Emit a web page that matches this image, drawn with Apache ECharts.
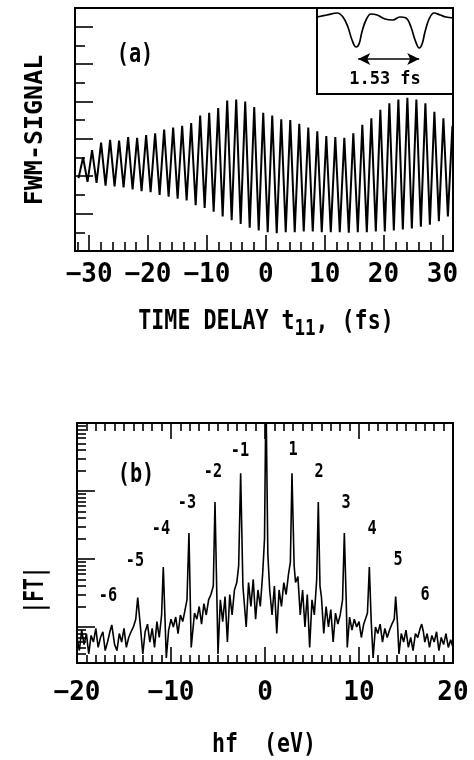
<!DOCTYPE html>
<html><head><meta charset="utf-8">
<script src="https://cdn.jsdelivr.net/npm/echarts@6/dist/echarts.min.js"></script>
<style>html,body{margin:0;padding:0;background:#fff}#c{width:474px;height:760px}</style>
</head><body><div id="c"></div>
<script>
// ---------- DATA ----------
// (a) FWM signal: trough / peak times (fs) and values (arb. units, axis 0..13)
const troughT = [-31.80,-30.27,-28.74,-27.21,-25.68,-24.15,-22.62,-21.09,-19.56,-18.03,-16.50,-14.97,-13.44,-11.91,-10.38,-8.85,-7.32,-5.79,-4.26,-2.73,-1.20,0.33,1.86,3.39,4.92,6.45,7.98,9.51,11.04,12.57,14.10,15.63,17.16,18.69,20.22,21.75,23.28,24.81,26.34,27.87,29.40,30.93];
const troughV = [3.9,3.7,3.65,3.5,3.45,3.4,3.3,3.2,3.15,3.0,2.9,2.8,2.7,2.45,2.3,2.1,1.85,1.65,1.45,1.25,1.1,1.0,0.95,1.0,1.0,1.05,1.05,1.0,1.0,1.0,0.98,1.0,1.0,1.05,1.05,1.1,1.15,1.2,1.3,1.4,1.6,1.85];
const peakT = [-31.03,-29.50,-27.97,-26.44,-24.91,-23.38,-21.85,-20.32,-18.79,-17.26,-15.73,-14.20,-12.67,-11.14,-9.61,-8.08,-6.55,-5.02,-3.49,-1.96,-0.43,1.10,2.63,4.16,5.69,7.22,8.75,10.28,11.81,13.34,14.87,16.40,17.93,19.46,20.99,22.52,24.05,25.58,27.11,28.64,30.17,31.70];
const peakV = [5.0,5.4,5.8,5.95,5.9,6.1,6.05,6.2,6.3,6.5,6.6,6.7,6.85,7.25,7.4,7.65,8.05,8.1,8.0,7.7,7.4,7.25,7.05,7.0,6.8,6.6,6.4,6.15,6.1,6.05,6.3,6.75,7.1,7.55,7.9,8.1,8.2,8.1,7.9,7.45,7.1,6.7];
const xTickLabelsA = [-30,-20,-10,0,10,20,30];

// inset: single-cycle detail (time in fs from inset left edge, signal arb.)
const insetT = [0,0.24,0.49,0.63,0.75,0.85,0.95,1.02,1.09,1.19,1.31,1.46,1.65,1.84,2.01,2.16,2.28,2.38,2.48,2.55,2.62,2.72,2.84,2.99,3.13,3.30];
const insetV = [77,79,81,77,67,54,47,50,62,74,80,79,75,74,77,76,67,54,46,50,62,75,81,79,77,76];
const insetArrow = [1.0, 2.48];
const insetText = '1.53 fs';

// (b) |FT| spectrum: background points [hf (eV), |FT|] and harmonic peaks
const ftBackground = [
[-20,0.70],[-19.75,0.45],[-19.5,0.90],[-19.25,0.55],[-19,0.80],[-18.75,0.40],[-18.5,0.75],[-18.25,0.60],[-18,0.95],[-17.75,0.50],[-17.5,0.70],[-17.25,0.85],[-17,0.45],
[-16.75,0.60],[-16.5,0.85],[-16,0.55],
[-15.75,0.45],[-15.5,0.80],[-15.25,0.60],[-15,0.95],[-14.75,0.50],[-14.5,0.70],[-14.25,0.85],[-14,1.00],
[-13.75,1.30],[-13.25,1.00],
[-13,0.40],[-12.75,0.85],[-12.5,1.10],[-12.25,0.60],[-12,0.95],[-11.75,0.50],[-11.5,1.20],[-11.25,0.70],
[-11,1.50],[-10.5,0.35],
[-10.25,0.90],[-10,1.30],[-9.75,1.00],[-9.5,1.40],[-9.25,0.80],[-9,1.50],[-8.75,1.20],[-8.5,1.80],
[-8.3,2.5],[-7.85,0.50],[-7.5,1.60],
[-7.25,1.30],[-7,2.00],[-6.75,1.10],[-6.5,2.20],[-6.25,1.50],[-6,2.50],[-5.75,3.00],[-5.5,4.00],[-5.0,0.40],
[-4.75,2.50],[-4.5,1.20],[-4.25,2.80],[-4,0.60],[-3.75,3.00],[-3.5,1.50],[-3.25,3.50],[-3,4.50],[-2.8,8.0],[-2.35,4.0],[-2,1.00],
[-1.75,4.50],[-1.5,2.00],[-1.25,5.00],[-1,1.30],[-0.75,3.50],[-0.5,2.00],[-0.25,6.00],[-0.05,20],[0.3,12],[0.5,3.5],[0.75,1.5],
[1,4.0],[1.25,0.8],[1.5,3.5],[1.75,2.0],[2,4.5],[2.25,3.0],[2.5,6.0],[2.7,9.0],[3.1,8.0],[3.25,4.5],[3.5,5.5],[3.75,1.5],
[4,3.5],[4.25,1.0],[4.5,3.0],[4.75,0.5],[5,2.5],[5.25,1.5],[5.5,5.0],[5.85,4.0],[6,2.8],[6.25,0.8],
[6.5,2.0],[6.75,1.0],[7,1.8],[7.25,0.6],[7.5,1.6],[7.75,1.1],[8,1.5],[8.25,2.5],[8.65,2.2],[8.75,0.5],
[9,1.4],[9.25,0.9],[9.5,1.3],[9.75,1.0],[10,1.2],[10.25,0.7],[10.5,1.1],[10.9,1.6],[11.3,1.2],[11.5,0.35],
[11.75,1.0],[12,0.8],[12.25,1.1],[12.5,0.6],[12.75,0.95],[13,0.7],[13.25,0.9],[13.5,1.1],[13.75,1.3],[14.1,1.1],[14.25,0.4],
[14.5,0.8],[14.75,0.6],[15,0.9],[15.25,0.5],[15.5,0.7],[15.75,0.45],[16,0.8],[16.25,0.7],[16.5,0.95],[16.85,0.85],[17,0.6],
[17.25,0.8],[17.5,0.5],[17.75,0.75],[18,0.6],[18.25,0.85],[18.5,0.45],[18.75,0.7],[19,0.55],[19.25,0.8],[19.5,0.5],[19.75,0.65],[20,0.5]
];
const ftPeakE = [-16.3,-13.54,-10.82,-8.09,-5.32,-2.59,0.1,2.87,5.67,8.44,11.1,13.9,16.67];
const ftPeakV = [1.07,2.7,7.6,24,69,182,3000,182,69,24,7.6,2.8,1.1];
const ftPeakLabels = ['-6','-5','-4','-3','-2','-1','','1','2','3','4','5','6'];
const xTickLabelsB = [-20,-10,0,10,20];

// ---------- BUILD ----------
const FONT = "'DejaVu Sans Mono',monospace";
const fwm = [];
for (let k = 0; k < troughT.length; k++) {
  fwm.push([troughT[k], troughV[k]]);
  fwm.push([peakT[k], peakV[k]]);
}
const inset = insetT.map((t, i) => [t, insetV[i]]);
const ft = ftBackground.concat(ftPeakE.map((e, i) => [e, ftPeakV[i]])).sort((a, b) => a[0] - b[0]);

const range = (a, b, s) => { const r = []; for (let v = a; v <= b + 1e-9; v += s) r.push(+v.toFixed(6)); return r; };
const minorA = range(-32, 30, 2).filter(v => v % 10 !== 0);
const minorB = range(-19, 19, 1).filter(v => v % 10 !== 0);
const majorB = [-10, 0, 10];
const logMin = 0.295, logMax = 1000;
const decades = [0, 1, 2, 3];
const logMinor = [];
[-1, 0, 1, 2].forEach(d => { for (let m = 2; m <= 9; m++) { const v = Math.log10(m) + d; if (v > Math.log10(logMin) && v < Math.log10(logMax)) logMinor.push(v); } });

const minus = v => String(v).replace('-', '\u2212');
const tickStyle = { color: '#000', width: 1.6 };
const lbl = { fontFamily: FONT, fontSize: 26, fontWeight: 'bold', color: '#000' };
const noLine = { show: false, onZero: false };

const chart = echarts.init(document.getElementById('c'), null, { renderer: 'canvas' });

const txt = (o) => Object.assign({ type: 'text', z: 100 }, o);
const graphic = [
  txt({ x: 135, y: 55, scaleX: 0.75, style: { text: '(a)', font: `bold 27px ${FONT}`, fill: '#000', align: 'center', verticalAlign: 'middle' } }),
  txt({ x: 385, y: 80, style: { text: insetText, font: `bold 17px ${FONT}`, fill: '#000', align: 'center', verticalAlign: 'middle' } }),
  txt({ x: 266, y: 322, scaleX: 0.8, style: { text: 'TIME DELAY t{s|11}, (fs)', font: `bold 27px ${FONT}`, fill: '#000', align: 'center', verticalAlign: 'middle', rich: { s: { fontSize: 22, fontWeight: 'bold', fontFamily: FONT, padding: [15, 0, 0, 0] } } } }),
  txt({ x: 35, y: 130, rotation: Math.PI / 2, style: { text: 'FWM-SIGNAL', font: `bold 25px ${FONT}`, fill: '#000', align: 'center', verticalAlign: 'middle' } }),
  txt({ x: 136, y: 475, scaleX: 0.75, style: { text: '(b)', font: `bold 27px ${FONT}`, fill: '#000', align: 'center', verticalAlign: 'middle' } }),
  txt({ x: 36, y: 590, rotation: Math.PI / 2, scaleX: 0.75, style: { text: '|FT|', font: `bold 26px ${FONT}`, fill: '#000', align: 'center', verticalAlign: 'middle' } }),
  txt({ x: 264, y: 745, scaleX: 0.8, style: { text: 'hf  (eV)', font: `bold 27px ${FONT}`, fill: '#000', align: 'center', verticalAlign: 'middle' } })
];
const labelPos = [[108,596],[135,561],[161,529],[187,503],[213,472],[240,451],null,[293,450],[319,472],[346,503],[372,529],[398,560],[425,595]];
ftPeakLabels.forEach((t, i) => {
  if (!t) return;
  graphic.push(txt({ x: labelPos[i][0], y: labelPos[i][1], scaleX: 0.8, style: { text: t, font: `bold 19px ${FONT}`, fill: '#000', align: 'center', verticalAlign: 'middle' } }));
});

const xA = (o) => Object.assign({ type: 'value', axisLine: noLine, splitLine: { show: false }, axisLabel: { show: false } }, o);

chart.setOption({
  animation: false,
  backgroundColor: '#fff',
  grid: [
    { left: 75, top: 8, width: 378, height: 243, show: true, borderColor: '#000', borderWidth: 2, backgroundColor: 'transparent' },
    { left: 317, top: 8, width: 136, height: 86, show: true, borderColor: '#000', borderWidth: 2, backgroundColor: '#fff', z: 5 },
    { left: 77, top: 423, width: 376, height: 240, show: true, borderColor: '#000', borderWidth: 2 }
  ],
  xAxis: [
    xA({ gridIndex: 0, position: 'bottom', min: -32.4, max: 31.8,
      axisTick: { inside: true, length: 9, customValues: minorA, lineStyle: tickStyle },
      axisLabel: Object.assign({ customValues: xTickLabelsA, margin: 11, formatter: minus }, lbl) }),
    xA({ gridIndex: 0, position: 'bottom', min: -32.4, max: 31.8,
      axisTick: { inside: true, length: 16, customValues: xTickLabelsA, lineStyle: tickStyle } }),
    { gridIndex: 1, type: 'value', min: 0, max: 3.3, show: false },
    xA({ gridIndex: 2, position: 'bottom', min: -20, max: 20,
      axisTick: { inside: true, length: 8, customValues: minorB, lineStyle: tickStyle },
      axisLabel: Object.assign({ customValues: xTickLabelsB, margin: 17, formatter: minus }, lbl) }),
    xA({ gridIndex: 2, position: 'bottom', min: -20, max: 20,
      axisTick: { inside: true, length: 16, customValues: majorB, lineStyle: tickStyle } }),
    xA({ gridIndex: 2, position: 'top', min: -20, max: 20,
      axisTick: { inside: true, length: 8, customValues: minorB, lineStyle: tickStyle } }),
    xA({ gridIndex: 2, position: 'top', min: -20, max: 20,
      axisTick: { inside: true, length: 16, customValues: majorB, lineStyle: tickStyle } })
  ],
  yAxis: [
    xA({ gridIndex: 0, position: 'left', min: 0, max: 13,
      axisTick: { inside: true, length: 18, customValues: [2,4,6,8,10,12], lineStyle: tickStyle } }),
    xA({ gridIndex: 0, position: 'left', min: 0, max: 13,
      axisTick: { inside: true, length: 10, customValues: [1,3,5,7,9,11], lineStyle: tickStyle } }),
    { gridIndex: 1, type: 'value', min: 0, max: 86, show: false },
    { gridIndex: 2, type: 'log', logBase: 10, min: logMin, max: logMax, show: false },
    xA({ gridIndex: 2, position: 'left', min: Math.log10(logMin), max: Math.log10(logMax),
      axisTick: { inside: true, length: 18, customValues: decades, lineStyle: tickStyle } }),
    xA({ gridIndex: 2, position: 'left', min: Math.log10(logMin), max: Math.log10(logMax),
      axisTick: { inside: true, length: 9, customValues: logMinor, lineStyle: tickStyle } })
  ],
  series: [
    { type: 'line', xAxisIndex: 0, yAxisIndex: 0, data: fwm, symbol: 'none', lineStyle: { color: '#000', width: 2 }, z: 3 },
    { type: 'line', xAxisIndex: 2, yAxisIndex: 2, data: inset, symbol: 'none', smooth: 0.4, lineStyle: { color: '#000', width: 1.7 }, z: 6,
      markLine: { silent: true, symbol: ['arrow', 'arrow'], symbolSize: [9, 12], label: { show: false },
        lineStyle: { color: '#000', width: 1.7, type: 'solid' },
        data: [[{ coord: [insetArrow[0], 35] }, { coord: [insetArrow[1], 35] }]] } },
    { type: 'line', xAxisIndex: 3, yAxisIndex: 3, data: ft, symbol: 'none', lineStyle: { color: '#000', width: 1.6 }, z: 3 }
  ],
  graphic: graphic
});
</script></body></html>
